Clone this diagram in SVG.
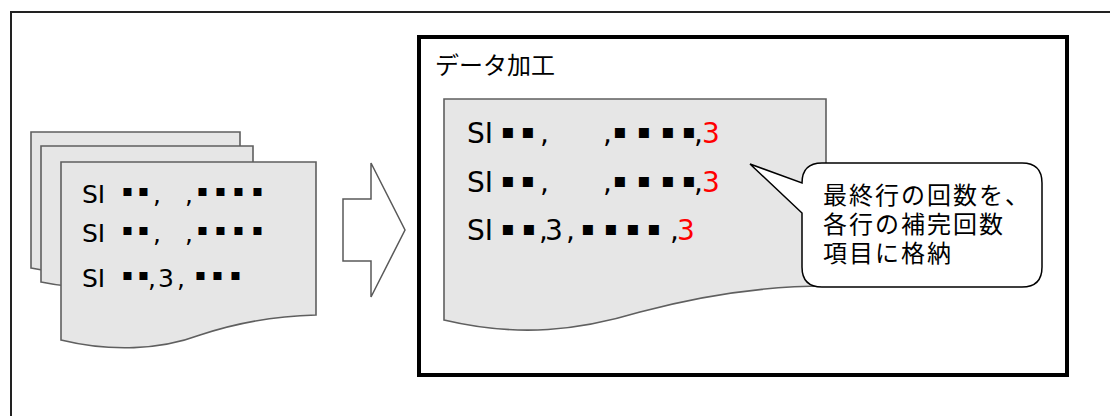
<svg xmlns="http://www.w3.org/2000/svg" width="1110" height="416" viewBox="0 0 1110 416">
<style>
.doc{fill:#e6e6e6;stroke:#5f5f5f;stroke-width:1.6}
.t{font-family:"DejaVu Sans","Liberation Sans",sans-serif;fill:#000}
.s1{font-size:16px}
.s2{font-size:20px}
.jp{font-family:"Noto Sans CJK JP",sans-serif;fill:#000}
.co{font-size:24px;letter-spacing:2px}
.red{fill:#ff0000}
</style>
<rect x="0" y="0" width="1110" height="416" fill="#fff"/>
<path d="M11,416 V12 H1110" fill="none" stroke="#222" stroke-width="2"/>

<g id="stack">
  <path class="doc" d="M31,132 H240 V250 C200,252 170,258 150,264 C110,276 70,276 31,268 Z"/>
  <path class="doc" d="M41,146 H253 V262 C210,264 180,270 160,277 C120,290 80,290 41,282 Z"/>
  <path class="doc" d="M61,162 H316 V315 C270,316 230,325 200,335 C160,350 110,352 61,340 Z"/>
  <text class="t" font-size="25"><tspan x="82" y="203">SI</tspan><tspan class="s1" x="122.2 138.2" y="196">▪▪</tspan><tspan x="153" y="203">,</tspan><tspan x="185" y="203">,</tspan><tspan class="s1" x="197.2 215.2 233.2 252.2" y="196">▪▪▪▪</tspan></text>
  <text class="t" font-size="25"><tspan x="82" y="242">SI</tspan><tspan class="s1" x="122.2 138.2" y="235">▪▪</tspan><tspan x="153" y="242">,</tspan><tspan x="185" y="242">,</tspan><tspan class="s1" x="197.2 215.2 233.2 252.2" y="235">▪▪▪▪</tspan></text>
  <text class="t" font-size="25"><tspan x="82" y="287">SI</tspan><tspan class="s1" x="122.2 138.2" y="280">▪▪</tspan><tspan x="148" y="287">,</tspan><tspan x="158" y="287">3</tspan><tspan x="177" y="287">,</tspan><tspan class="s1" x="195.2 212.2 230.2" y="280">▪▪▪</tspan></text>
</g>

<g id="connectors">
  <path d="M343,199 H371 V163 L405,230 L371,297 V261 H343 Z" fill="#fff" stroke="#595959" stroke-width="1.5"/>
</g>

<g id="process">
  <rect x="419" y="37" width="648" height="338" fill="#fff" stroke="#000" stroke-width="4"/>
  <text class="jp" font-size="24" x="435" y="74">データ加工</text>
  <path class="doc" d="M444,99 H826 V286 C760,286 700,296 640,312 C580,330 520,338 444,320 Z"/>
  <text class="t" font-size="28"><tspan x="467" y="143">SI</tspan><tspan class="s2" x="501 521" y="138">▪▪</tspan><tspan x="540" y="143">,</tspan><tspan x="603" y="143">,</tspan><tspan class="s2" x="613 637 661 682" y="138">▪▪▪▪</tspan><tspan x="694" y="143">,</tspan><tspan class="red" x="702" y="143">3</tspan></text>
  <text class="t" font-size="28"><tspan x="467" y="192">SI</tspan><tspan class="s2" x="501 521" y="187">▪▪</tspan><tspan x="540" y="192">,</tspan><tspan x="603" y="192">,</tspan><tspan class="s2" x="613 637 661 682" y="187">▪▪▪▪</tspan><tspan x="694" y="192">,</tspan><tspan class="red" x="702" y="192">3</tspan></text>
  <text class="t" font-size="28"><tspan x="467" y="240">SI</tspan><tspan class="s2" x="501 522" y="235">▪▪</tspan><tspan x="539" y="240">,</tspan><tspan x="545" y="240">3</tspan><tspan x="566" y="240">,</tspan><tspan class="s2" x="581 604 626 647" y="235">▪▪▪▪</tspan><tspan x="670" y="240">,</tspan><tspan class="red" x="677" y="240">3</tspan></text>
</g>

<g id="callout">
  <path d="M822,163 H1022 Q1042,163 1042,183 V267 Q1042,287 1022,287 H822 Q802,287 802,267 V213 L750,164 L802,183 Q802,163 822,163 Z" fill="#fff" stroke="#000" stroke-width="1.5"/>
  <text class="jp co" x="823" y="204">最終行の回数を、</text>
  <text class="jp co" x="823" y="233">各行の補完回数</text>
  <text class="jp co" x="823" y="262">項目に格納</text>
</g>
</svg>
